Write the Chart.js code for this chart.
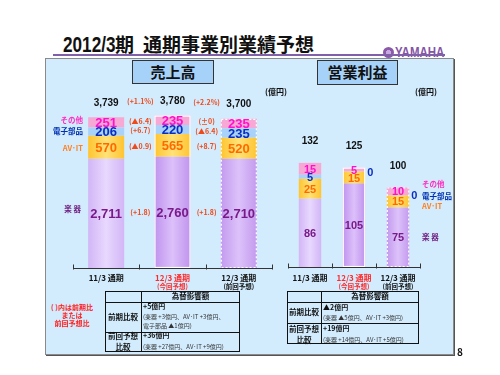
<!DOCTYPE html>
<html><head><meta charset="utf-8">
<script src="https://cdn.jsdelivr.net/npm/chart.js@4"></script>
<style>
html,body{margin:0;padding:0;width:500px;height:375px;background:#fff;overflow:hidden;font-family:"Noto Sans CJK JP","Liberation Sans",sans-serif;}
.abs{position:absolute;white-space:nowrap;}
#panel{position:absolute;left:45px;top:58px;width:407px;height:295px;background:#d2ecfe;border:1px solid #8a8a8a;box-shadow:1px 1px 0 #555;}
.tbox{position:absolute;box-sizing:border-box;border:1.5px solid #333;background:#a6d2fa;text-align:center;font-weight:bold;color:#111;}
.line{position:absolute;background:#111;}
canvas{position:absolute;}
</style></head>
<body>
<div class="abs" style="left:63px;top:33px;font-weight:bold;color:#111;line-height:22px;">
  <span style="display:inline-block;width:52px;"><span style="display:inline-block;font-family:'Liberation Sans';font-size:22px;transform:scaleX(0.78);transform-origin:left;">2012/3</span></span><span style="font-size:19px;">期</span><span style="font-size:19px;margin-left:9px;">通期事業別業績予想</span>
</div>
<div class="abs" style="left:383px;top:47px;width:11px;height:11px;border-radius:50%;background:radial-gradient(circle,#c8a8e0 0 30%,#8a5aa8 32% 100%);"></div>
<div class="abs" style="left:395px;top:45px;font-family:'Liberation Sans';font-weight:bold;font-size:14px;line-height:14px;color:#8455a6;transform:scaleX(0.82);transform-origin:left;">YAMAHA</div>
<div class="abs" style="left:53px;top:54px;width:392px;height:2px;background:#8060a8;"></div>

<div id="panel"></div>
<div class="tbox" style="left:132px;top:60px;width:82px;height:24px;font-size:15px;line-height:21px;">売上高</div>
<div class="tbox" style="left:317px;top:60px;width:81px;height:25px;font-size:15px;line-height:22px;">営業利益</div>

<canvas id="sales" width="236" height="234" style="left:46px;top:58px;"></canvas>
<canvas id="op" width="172" height="234" style="left:282px;top:58px;"></canvas>

<div id="texts"></div>

<script>
// ---- data ----
const categories = ['11/3 通期', '12/3 通期', '12/3 通期'];
const categoryNotes = ['', '(今回予想)', '(前回予想)'];
const categoryColors = ['#111', '#ff2a2a', '#111'];

const salesInstruments = [2711, 2760, 2710];
const salesAvIt = [570, 565, 520];
const salesElectronic = [206, 220, 235];
const salesOther = [251, 235, 235];
const salesTotal = [3739, 3780, 3700];

const salesChgTotal = ['(+1.1%)', '(+2.2%)'];
const salesChgOther = ['(▲6.4)', '(±0)'];
const salesChgElectronic = ['(+6.7)', '(▲6.4)'];
const salesChgAvIt = ['(▲0.9)', '(+8.7)'];
const salesChgInstruments = ['(+1.8)', '(+1.8)'];

const opInstruments = [86, 105, 75];
const opAvIt = [25, 15, 15];
const opElectronic = [5, 0, 0];
const opOther = [15, 5, 10];
const opTotal = [132, 125, 100];

// ---- colours ----
const labelColors = ['#7a1a8a', '#ff6a00', '#0a2ec0', '#ff10cc'];
const instrEdge = ['#d2b6f6', '#c094ee', '#c49aee'];
const instrCenter = ['#e8d8fe', '#dcc0fa', '#dcc2fa'];

function hGrad(edge, center, barPct) {
  return function (c) {
    const ch = c.chart;
    const e = Array.isArray(edge) ? edge[c.dataIndex] : edge;
    const m = Array.isArray(center) ? center[c.dataIndex] : center;
    if (!ch.chartArea) return e;
    const xs = ch.scales.x;
    const cx = xs.getPixelForValue(c.dataIndex);
    const w = (xs.width / ch.data.labels.length) * barPct;
    const g = ch.ctx.createLinearGradient(cx - w / 2, 0, cx + w / 2, 0);
    g.addColorStop(0, e); g.addColorStop(0.5, m); g.addColorStop(1, e);
    return g;
  };
}

const deco = {
  id: 'deco',
  afterDatasetsDraw(chart, args, o) {
    const ctx = chart.ctx, ca = chart.chartArea, xs = chart.scales.x;
    const n = chart.data.labels.length;
    const metas = chart.data.datasets.map((d, i) => chart.getDatasetMeta(i));
    const last = metas.length - 1;
    ctx.save();
    // outlines
    for (let i = 0; i < n; i++) {
      const st = o.outlines[i];
      if (st === 'none') continue;
      const b0 = metas[0].data[i], bt = metas[last].data[i];
      const w = b0.width;
      ctx.strokeStyle = '#ffffff'; ctx.lineWidth = 1.2;
      ctx.setLineDash(st === 'dash' ? [2, 2] : []);
      ctx.strokeRect(b0.x - w / 2 + 0.5, bt.y + 0.5, w - 1, b0.base - bt.y - 1);
    }
    ctx.setLineDash([]);
    // segment values
    ctx.textAlign = 'center'; ctx.textBaseline = 'alphabetic';
    chart.data.datasets.forEach((ds, d) => {
      ds.data.forEach((v, i) => {
        const b = metas[d].data[i];
        ctx.fillStyle = labelColors[d];
        ctx.font = 'bold ' + o.valSize + 'px "Liberation Sans"';
        const txt = v.toLocaleString('en-US');
        if (v === 0) {
          ctx.textAlign = 'left';
          ctx.fillText(txt, b.x + b.width / 2 + 2, b.y + 0.36 * o.valSize);
          ctx.textAlign = 'center';
        } else {
          ctx.fillText(txt, b.x, (b.y + b.base) / 2 + 0.36 * o.valSize);
        }
      });
    });
    // totals
    ctx.fillStyle = '#111';
    ctx.font = 'bold ' + o.totSize + 'px "Liberation Sans"';
    o.totals.forEach((t, i) => {
      const bt = metas[last].data[i];
      ctx.fillText(t.toLocaleString('en-US'), bt.x, bt.y - o.totOffset + 0.36 * o.totSize);
    });
    // annotations between bars
    if (o.ann) {
      ctx.fillStyle = '#f04818';
      ctx.font = 'bold 7px "Noto Sans CJK JP"';
      o.ann.forEach(row => {
        row.texts.forEach((t, k) => {
          const x = (xs.getPixelForValue(k) + xs.getPixelForValue(k + 1)) / 2 + o.annDx;
          let y;
          if (row.ds === 'total') {
            y = (metas[last].data[k].y + metas[last].data[k + 1].y) / 2 - o.totOffset;
          } else {
            const a = metas[row.ds].data[k], b = metas[row.ds].data[k + 1];
            y = ((a.y + a.base) / 2 + (b.y + b.base) / 2) / 2;
          }
          ctx.fillText(t, x, y + 2.5);
        });
      });
    }
    // axis line with ticks
    ctx.strokeStyle = '#333'; ctx.lineWidth = 1;
    const yb = Math.round(ca.bottom) + 0.5;
    ctx.beginPath(); ctx.moveTo(ca.left, yb); ctx.lineTo(ca.right, yb);
    const cw = (ca.right - ca.left) / n;
    for (let k = 0; k <= n; k++) {
      const x = Math.round(ca.left + k * cw) + 0.5;
      ctx.moveTo(x, yb - 4); ctx.lineTo(x, yb + 1);
    }
    ctx.stroke();
    // category labels
    chart.data.labels.forEach((lab, i) => {
      const x = xs.getPixelForValue(i);
      ctx.fillStyle = categoryColors[i];
      ctx.font = 'bold 8px "Noto Sans CJK JP"';
      ctx.fillText(lab, x, ca.bottom + o.catDy);
      if (categoryNotes[i]) {
        ctx.font = 'bold 6.5px "Noto Sans CJK JP"';
        ctx.fillText(categoryNotes[i], x, ca.bottom + o.catDy + 7.5);
      }
    });
    ctx.restore();
  }
};

function makeChart(id, sets, max, pad, barPct, opts) {
  return new Chart(document.getElementById(id), {
    type: 'bar',
    data: {
      labels: categories,
      datasets: [
        { data: sets[0], backgroundColor: hGrad(instrEdge, instrCenter, barPct) },
        { data: sets[1], backgroundColor: hGrad('#ffc430', '#ffe278', barPct) },
        { data: sets[2], backgroundColor: '#a8d2fa' },
        { data: sets[3], backgroundColor: '#f8a8d4' }
      ].map(d => Object.assign(d, { borderWidth: 0, barPercentage: barPct, categoryPercentage: 1 }))
    },
    options: {
      responsive: false, animation: false,
      layout: { padding: pad },
      scales: {
        x: { stacked: true, display: false },
        y: { stacked: true, display: false, min: 0, max: max }
      },
      plugins: { legend: { display: false }, tooltip: { enabled: false }, deco: opts }
    },
    plugins: [deco]
  });
}

makeChart('sales', [salesInstruments, salesAvIt, salesElectronic, salesOther], 5000,
  { left: 27, right: 10, top: 8.4, bottom: 24 }, 0.543,
  { outlines: ['none', 'solid', 'dash'], valSize: 13, totals: salesTotal, totSize: 10, totOffset: 15,
    catDy: 13, annDx: 1,
    ann: [
      { ds: 'total', texts: salesChgTotal },
      { ds: 3, texts: salesChgOther },
      { ds: 2, texts: salesChgElectronic },
      { ds: 1, texts: salesChgAvIt },
      { ds: 0, texts: salesChgInstruments }
    ] });

makeChart('op', [opInstruments, opAvIt, opElectronic, opOther], 200,
  { left: 6, right: 34, top: 50, bottom: 25 }, 0.51,
  { outlines: ['none', 'solid', 'dash'], valSize: 11, totals: opTotal, totSize: 10, totOffset: 22,
    catDy: 14 });

// ---- other texts ----
const T = document.getElementById('texts');
function txt(x, y, s, size, color, opt) {
  opt = opt || {};
  const d = document.createElement('div');
  d.className = 'abs';
  d.textContent = s;
  d.style.fontSize = size + 'px';
  d.style.lineHeight = size + 'px';
  d.style.top = (y - size / 2 - 0.5) + 'px';
  d.style.color = color;
  d.style.fontWeight = opt.normal ? 'normal' : 'bold';
  if (opt.align === 'center') { d.style.left = (x - 100) + 'px'; d.style.width = '200px'; d.style.textAlign = 'center'; }
  else if (opt.align === 'right') { d.style.left = (x - 200) + 'px'; d.style.width = '200px'; d.style.textAlign = 'right'; }
  else d.style.left = x + 'px';
  T.appendChild(d);
}
function box(x, y, w, h) {
  const d = document.createElement('div');
  d.className = 'abs';
  Object.assign(d.style, { left: x + 'px', top: y + 'px', width: w + 'px', height: h + 'px', boxSizing: 'border-box', border: '1.5px solid #111' });
  T.appendChild(d);
}
function line(x, y, w, h) {
  const d = document.createElement('div');
  d.className = 'line';
  Object.assign(d.style, { left: x + 'px', top: y + 'px', width: w + 'px', height: h + 'px' });
  T.appendChild(d);
}

txt(276, 92, '(億円)', 8, '#111', { align: 'center' });
txt(426, 92, '(億円)', 8, '#111', { align: 'center' });

// legend labels, sales (left)
txt(83, 120, 'その他', 7.5, '#ff30c0', { align: 'right' });
txt(83, 131, '電子部品', 7.5, '#0030b0', { align: 'right' });
txt(83, 148, 'AV･IT', 7.5, '#ff8020', { align: 'right' });
txt(81, 209, '楽 器', 7.5, '#702080', { align: 'right' });
// legend labels, operating income (right)
txt(422, 184, 'その他', 7.5, '#ff30c0');
txt(422, 196, '電子部品', 7.5, '#0030b0');
txt(422, 206, 'AV･IT', 7.5, '#ff8020');
txt(422, 237, '楽 器', 7.5, '#702080');

// note
txt(72, 308, '( )内は前期比', 7, '#ff2020', { align: 'center' });
txt(72, 316, 'または', 7, '#ff2020', { align: 'center' });
txt(72, 324, '前回予想比', 7, '#ff2020', { align: 'center' });

// table 1
box(105, 291, 135, 61);
line(140.5, 291, 1.5, 61);
line(105, 301.5, 135, 1.5);
line(105, 331.5, 135, 1.5);
txt(190.5, 296.5, '為替影響額', 7.5, '#111', { align: 'center' });
txt(123, 317, '前期比較', 7.5, '#111', { align: 'center' });
txt(143, 307, '+5億円', 7, '#111');
txt(143, 317, '(楽器 +3億円、AV･IT +3億円、', 6, '#333', { normal: true });
txt(143, 326, '電子部品 ▲1億円)', 6, '#333', { normal: true });
txt(123, 336, '前回予想', 7.5, '#111', { align: 'center' });
txt(123, 347, '比較', 7.5, '#111', { align: 'center' });
txt(143, 336, '+36億円', 7, '#111');
txt(143, 347, '(楽器 +27億円、AV･IT +9億円)', 6, '#333', { normal: true });

// table 2
box(287, 291, 132, 53);
line(320.5, 291, 1.5, 53);
line(287, 301.5, 132, 1.5);
line(287, 322.5, 132, 1.5);
txt(370, 296.5, '為替影響額', 7.5, '#111', { align: 'center' });
txt(304, 312.5, '前期比較', 7.5, '#111', { align: 'center' });
txt(323, 308, '▲2億円', 7, '#111');
txt(323, 318, '(楽器 ▲5億円、AV･IT +3億円)', 6, '#333', { normal: true });
txt(304, 329, '前回予想', 7.5, '#111', { align: 'center' });
txt(304, 340, '比較', 7.5, '#111', { align: 'center' });
txt(323, 329, '+19億円', 7, '#111');
txt(323, 340, '(楽器 +14億円、AV･IT +5億円)', 6, '#333', { normal: true });

txt(460, 352, '8', 10, '#111', { align: 'center' });
</script>
</body></html>
